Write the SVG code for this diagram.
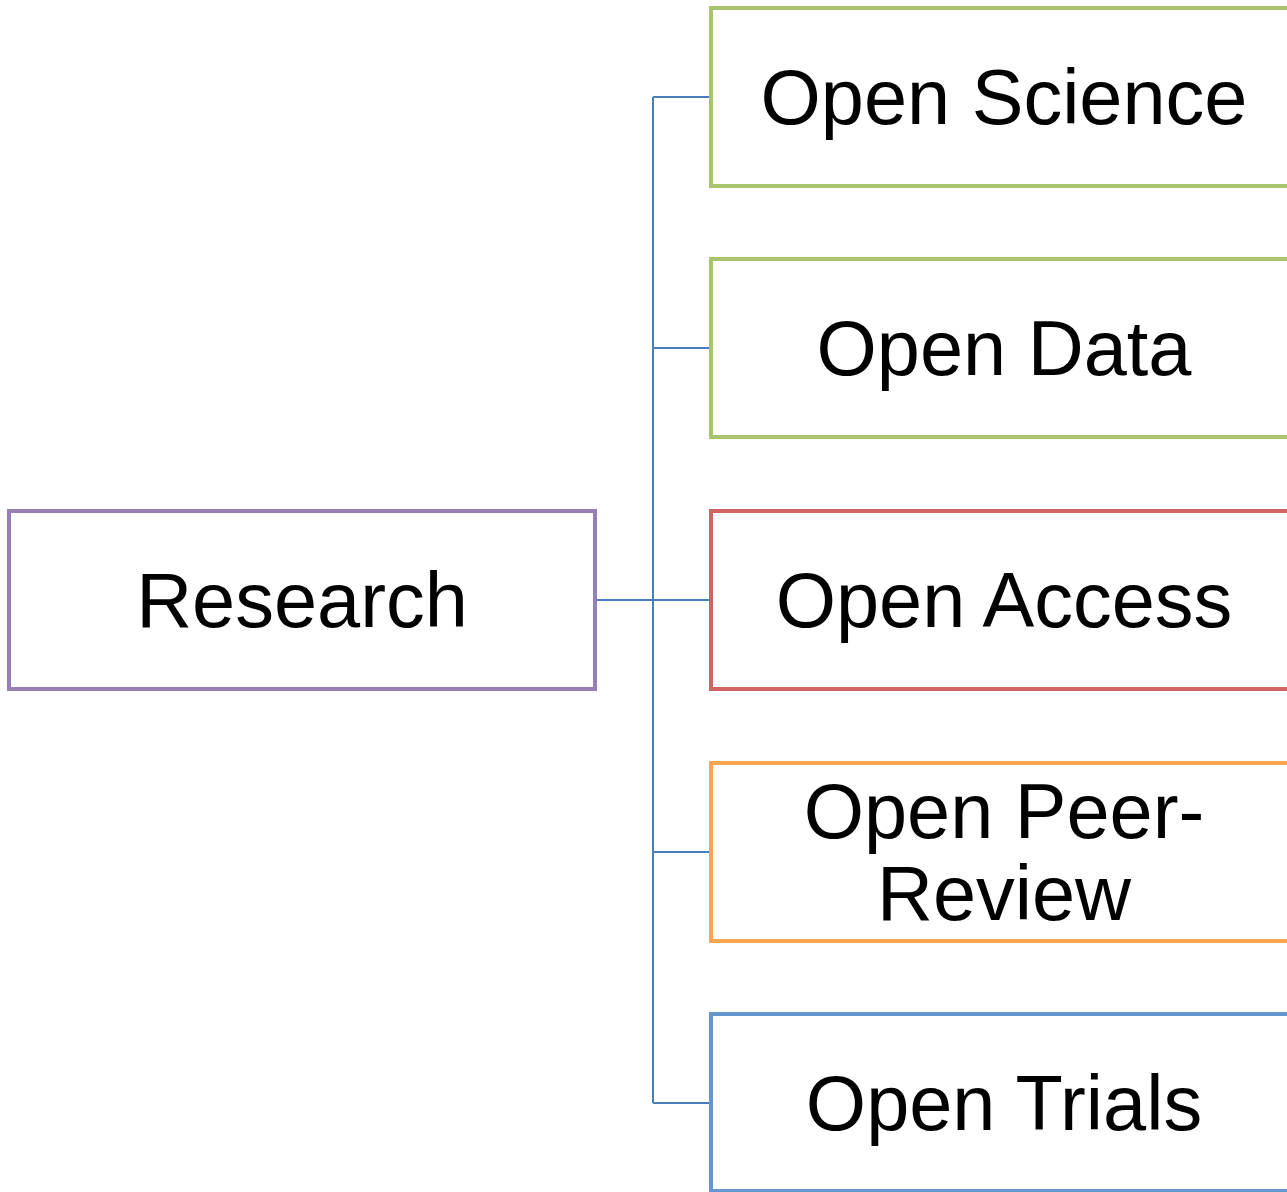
<svg xmlns="http://www.w3.org/2000/svg" width="1287" height="1192" viewBox="0 0 1287 1192">
<style>
.box{fill:#ffffff;stroke-width:4}
.t{font-family:"Liberation Sans",Arial,sans-serif;font-size:77.5px;fill:#000000;text-anchor:middle}
.c{fill:none;stroke:#4a7ebb;stroke-width:2}
</style>
<rect width="1287" height="1192" fill="#ffffff"/>
<g id="connectors">
<path class="c" d="M595 600H653M653 97V1103M653 97H711M653 348H711M653 600H711M653 852H711M653 1103H711"/>
</g>
<g id="research">
<rect class="box" x="9" y="511" width="586" height="178" stroke="#967fb5"/>
<text class="t" x="302" y="627">Research</text>
</g>
<g id="open-science">
<rect class="box" x="711" y="8" width="586" height="178" stroke="#a9c46d"/>
<text class="t" x="1004" y="124">Open Science</text>
</g>
<g id="open-data">
<rect class="box" x="711" y="259" width="586" height="178" stroke="#a9c46d"/>
<text class="t" x="1004" y="375">Open Data</text>
</g>
<g id="open-access">
<rect class="box" x="711" y="511" width="586" height="178" stroke="#cd6660"/>
<text class="t" x="1004" y="627">Open Access</text>
</g>
<g id="open-peer-review">
<rect class="box" x="711" y="763" width="586" height="178" stroke="#f9a64e"/>
<text class="t" x="1004" y="838">Open Peer-</text>
<text class="t" x="1004" y="920">Review</text>
</g>
<g id="open-trials">
<rect class="box" x="711" y="1014" width="586" height="177" stroke="#6597cd"/>
<text class="t" x="1004" y="1130">Open Trials</text>
</g>
</svg>
